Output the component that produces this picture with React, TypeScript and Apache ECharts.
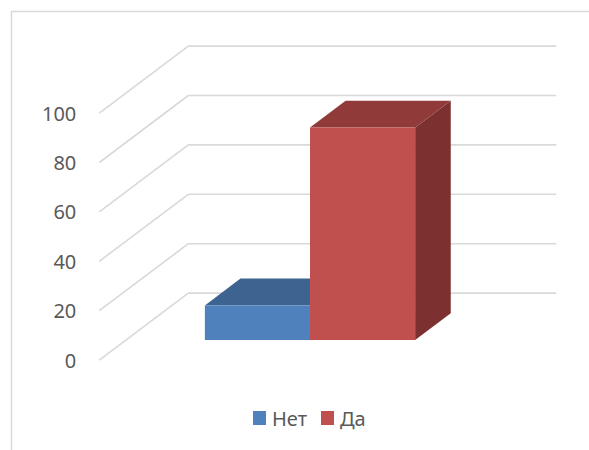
import React, { useEffect, useRef } from "react";
import * as echarts from "echarts";

const categories = ["1"];
const seriesNames = ["Нет", "Да"];
const seriesValues = [[14], [86]];
const yTicks = [0, 20, 40, 60, 80, 100];

const FRONT = ["#4F81BD", "#C0504D"];
const TOP = ["#3D6491", "#903A39"];
const SIDE = ["#35577F", "#7D3030"];

// oblique "3D" depth vector (full depth: front labels -> back wall)
const DX = 89;
const DY = -67;
const BAR_T = 0.3; // depth of bar front faces
const BAR_D = 0.4; // bar thickness
const FONT = "'Noto Sans', 'Open Sans', sans-serif";

const GB = { left: 126, top: 93, width: 368, height: 247 };

export default function App() {
  const ref = useRef<HTMLDivElement>(null);
  useEffect(() => {
    const chart = echarts.init(ref.current!, null, { renderer: "svg" });
    const wallSeries = {
      type: "custom",
      name: "wall",
      xAxisIndex: 0,
      yAxisIndex: 0,
      silent: true,
      z: 1,
      data: yTicks.map((v) => [0, v]),
      renderItem: (params: any, api: any) => {
        const cs = params.coordSys;
        const y = api.coord([0, api.value(1)])[1];
        const fx = cs.x - BAR_T * DX;
        const fy = y - BAR_T * DY;
        const bx = cs.x + (1 - BAR_T) * DX;
        const by = y + (1 - BAR_T) * DY;
        const rx = cs.x + cs.width + (1 - BAR_T) * DX;
        const st = { stroke: "#D9D9D9", lineWidth: 1.6, fill: null };
        return {
          type: "group",
          children: [
            { type: "line", shape: { x1: fx, y1: fy, x2: bx, y2: by }, style: st },
            { type: "line", shape: { x1: bx, y1: by, x2: rx, y2: by }, style: st },
          ],
        };
      },
    };
    const barSeries = seriesNames.map((name, si) => ({
      type: "custom",
      name,
      xAxisIndex: 0,
      yAxisIndex: 0,
      z: 2 + si,
      itemStyle: { color: FRONT[si] },
      data: seriesValues[si].map((v, i) => [i, v]),
      renderItem: (params: any, api: any) => {
        const top = api.coord([api.value(0), api.value(1)]);
        const base = api.coord([api.value(0), 0]);
        const catW = api.size([1, 0])[0];
        const barW = catW / 3.5;
        const x0 = top[0] - barW + si * barW;
        const x1 = x0 + barW;
        const ty = top[1];
        const by = base[1];
        const dx = BAR_D * DX;
        const dy = BAR_D * DY;
        return {
          type: "group",
          children: [
            {
              type: "polygon",
              shape: { points: [[x1, ty], [x1 + dx, ty + dy], [x1 + dx, by + dy], [x1, by]] },
              style: { fill: SIDE[si] },
            },
            {
              type: "polygon",
              shape: { points: [[x0, ty], [x1, ty], [x1 + dx, ty + dy], [x0 + dx, ty + dy]] },
              style: { fill: TOP[si] },
            },
            {
              type: "rect",
              shape: { x: x0, y: ty, width: barW, height: by - ty },
              style: { fill: FRONT[si] },
            },
          ],
        };
      },
    }));
    chart.setOption({
      animation: false,
      backgroundColor: "#FFFFFF",
      textStyle: { fontFamily: FONT },
      graphic: [
        {
          type: "rect",
          shape: { x: 11.5, y: 11.5, width: 620, height: 480 },
          style: { fill: null, stroke: "#D9D9D9", lineWidth: 1.5 },
          silent: true,
          z: -10,
        },
      ],
      legend: {
        data: seriesNames,
        left: 248,
        top: 403,
        icon: "rect",
        itemWidth: 13,
        itemHeight: 14,
        itemGap: 14,
        textStyle: { fontSize: 20, color: "#595959", fontFamily: FONT, padding: [0, 0, 0, 1] },
      },
      grid: [
        { left: GB.left, top: GB.top, width: GB.width, height: GB.height },
        {
          left: GB.left - BAR_T * DX,
          top: GB.top - BAR_T * DY,
          width: GB.width,
          height: GB.height,
        },
      ],
      xAxis: [
        { type: "category", data: categories, gridIndex: 0, show: false },
        { type: "category", data: categories, gridIndex: 1, show: false },
      ],
      yAxis: [
        {
          type: "value",
          gridIndex: 0,
          min: 0,
          max: 100,
          interval: 20,
          show: false,
        },
        {
          type: "value",
          gridIndex: 1,
          min: 0,
          max: 100,
          interval: 20,
          axisLine: { show: false },
          axisTick: { show: false },
          splitLine: { show: false },
          axisLabel: { fontSize: 20, color: "#595959", margin: 23, fontFamily: FONT },
        },
      ],
      series: [wallSeries, ...barSeries],
    });
    return () => chart.dispose();
  }, []);
  return (
    <div
      ref={ref}
      style={{ position: "fixed", left: 0, top: 0, width: 589, height: 450 }}
    />
  );
}
